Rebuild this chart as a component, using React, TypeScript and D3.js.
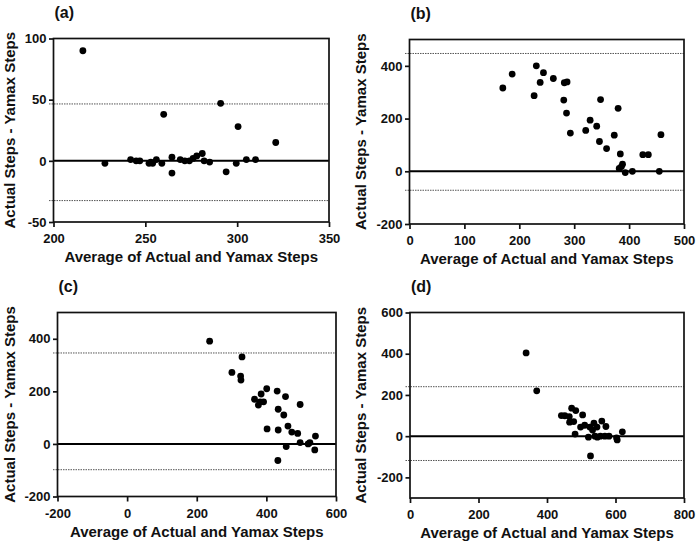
import React, { useEffect, useRef } from 'react';
import * as d3 from 'd3';

// (a) walking
const aX = [216, 228, 242, 245, 247, 252, 253, 254, 256, 259, 260, 264.5, 264.5, 269, 271.5, 274, 276, 278, 281, 282, 285, 291, 294, 299.5, 300.5, 305, 310, 321];
const aY = [90, -2, 1, 0, 0, -2, -1, -2, 1, -2, 38, 3, -10, 1, 0, 0, 2, 4, 6, 0, -1, 47, -9, -2, 28, 1, 1, 15];
const aXTicks = [200, 250, 300, 350];
const aYTicks = [-50, 0, 50, 100];
const aLimits = [46.5, -32.5];

// (b)
const bX = [170, 187, 227, 231, 238, 244, 262, 281, 282, 287, 286, 293, 321, 329, 341, 346, 348, 359, 373, 380, 384, 388, 382, 386, 393, 406, 425, 435, 455, 458];
const bY = [316, 369, 287, 400, 337, 374, 352, 270, 336, 339, 221, 145, 155, 194, 171, 113, 272, 86, 137, 239, 66, 27, 11, 18, -5, 0, 63, 63, 0, 139];
const bXTicks = [0, 100, 200, 300, 400, 500];
const bYTicks = [-200, 0, 200, 400];
const bLimits = [447, -72];

// (c)
const cX = [237, 301, 326, 327, 330, 366, 377, 382, 385, 392, 401, 402, 431, 434, 434, 433, 450, 455, 457, 462, 473, 490, 497, 497, 520, 525, 539, 541];
const cY = [391, 272, 258, 243, 331, 170, 148, 160, 190, 160, 210, 57, 201, 132, 53, -63, 110, 180, -10, 68, 45, 40, 150, 5, 0, 5, -23, 30];
const cXTicks = [-200, 0, 200, 400, 600];
const cYTicks = [-200, 0, 200, 400];
const cLimits = [346, -98];

// (d)
const dX = [339, 370, 442, 452, 465, 472, 484, 466, 478, 504, 482, 498, 510, 525, 537, 546, 560, 572, 521, 527, 540, 547, 556, 569, 581, 603, 605, 620, 533];
const dY = [404, 220, 100, 99, 95, 136, 124, 68, 71, 103, 10, 44, 53, 44, 63, 44, 73, 47, -5, -96, 0, -5, 0, 0, 0, -8, -18, 21, 30];
const dXTicks = [0, 200, 400, 600, 800];
const dYTicks = [-200, 0, 200, 400, 600];
const dLimits = [240, -118];

const panels = [
  { label: '(a)', xs: aX, ys: aY, xDomain: [200, 350], yDomain: [-50, 100], xTicks: aXTicks, yTicks: aYTicks, limits: aLimits, box: [53.5, 329, 38.5, 222], titleX: 10 },
  { label: '(b)', xs: bX, ys: bY, xDomain: [0, 500], yDomain: [-200, 500], xTicks: bXTicks, yTicks: bYTicks, limits: bLimits, box: [409.5, 684, 39.5, 224], titleX: 361 },
  { label: '(c)', xs: cX, ys: cY, xDomain: [-200, 600], yDomain: [-200, 500], xTicks: cXTicks, yTicks: cYTicks, limits: cLimits, box: [57.5, 336, 312.5, 496.5], titleX: 10 },
  { label: '(d)', xs: dX, ys: dY, xDomain: [0, 800], yDomain: [-300, 600], xTicks: dXTicks, yTicks: dYTicks, limits: dLimits, box: [410, 684, 312.5, 498], titleX: 361 },
];

const FONT = '"Liberation Sans", Arial, sans-serif';

export default function App() {
  const svgRef = useRef<SVGSVGElement | null>(null);

  useEffect(() => {
    if (!svgRef.current) return;
    const svg = d3.select(svgRef.current);
    svg.selectAll('*').remove();

    panels.forEach((p) => {
      const [left, right, top, bottom] = p.box;
      const x = d3.scaleLinear().domain(p.xDomain).range([left, right]);
      const y = d3.scaleLinear().domain(p.yDomain).range([bottom, top]);
      const g = svg.append('g');

      // limits of agreement (dotted)
      p.limits.forEach((v) => {
        g.append('line')
          .attr('x1', left - 4.5)
          .attr('x2', right)
          .attr('y1', y(v))
          .attr('y2', y(v))
          .attr('stroke', '#555')
          .attr('stroke-width', 1)
          .attr('stroke-dasharray', '1.5,1');
      });

      // zero line
      g.append('line')
        .attr('x1', left)
        .attr('x2', right)
        .attr('y1', y(0))
        .attr('y2', y(0))
        .attr('stroke', '#000')
        .attr('stroke-width', 2);

      // frame
      g.append('rect')
        .attr('x', left)
        .attr('y', top)
        .attr('width', right - left)
        .attr('height', bottom - top)
        .attr('fill', 'none')
        .attr('stroke', '#111')
        .attr('stroke-width', 1.7);

      const fmt = (d: any) => (d < 0 ? '-' + Math.abs(d) : String(d));
      const xAxis = g.append('g')
        .attr('transform', `translate(0,${bottom})`)
        .call(d3.axisBottom(x).tickValues(p.xTicks).tickSize(5).tickPadding(7).tickFormat(fmt));
      const yAxis = g.append('g')
        .attr('transform', `translate(${left},0)`)
        .call(d3.axisLeft(y).tickValues(p.yTicks).tickSize(4.5).tickPadding(2.5).tickFormat(fmt));

      [xAxis, yAxis].forEach((ax) => {
        ax.select('.domain').remove();
        ax.selectAll('.tick line').attr('stroke', '#111').attr('stroke-width', 1.7);
        ax.selectAll('text')
          .attr('fill', '#111')
          .style('font-family', FONT)
          .style('font-weight', 'bold')
          .style('font-size', '13px');
      });

      // points
      g.selectAll('.dot')
        .data(p.xs.map((v, i) => [v, p.ys[i]]))
        .enter()
        .append('circle')
        .attr('cx', (d) => x(d[0]))
        .attr('cy', (d) => y(d[1]))
        .attr('r', 3.4)
        .attr('fill', '#000');

      // titles
      g.append('text')
        .attr('x', (left + right) / 2)
        .attr('y', bottom + 40)
        .attr('text-anchor', 'middle')
        .style('font-family', FONT)
        .style('font-weight', 'bold')
        .style('font-size', '15px')
        .attr('fill', '#111')
        .text('Average of Actual and Yamax Steps');

      g.append('text')
        .attr('transform', `translate(${p.titleX + 5},${(top + bottom) / 2}) rotate(-90)`)
        .attr('text-anchor', 'middle')
        .style('font-family', FONT)
        .style('font-weight', 'bold')
        .style('font-size', '15px')
        .attr('fill', '#111')
        .text('Actual Steps - Yamax Steps');

      g.append('text')
        .attr('x', left + 1)
        .attr('y', top - 21)
        .style('font-family', FONT)
        .style('font-weight', 'bold')
        .style('font-size', '16px')
        .attr('fill', '#111')
        .text(p.label);
    });
  }, []);

  return (
    <svg
      ref={svgRef}
      width={700}
      height={546}
      style={{ position: 'absolute', left: 0, top: 0, background: '#fff' }}
    />
  );
}
